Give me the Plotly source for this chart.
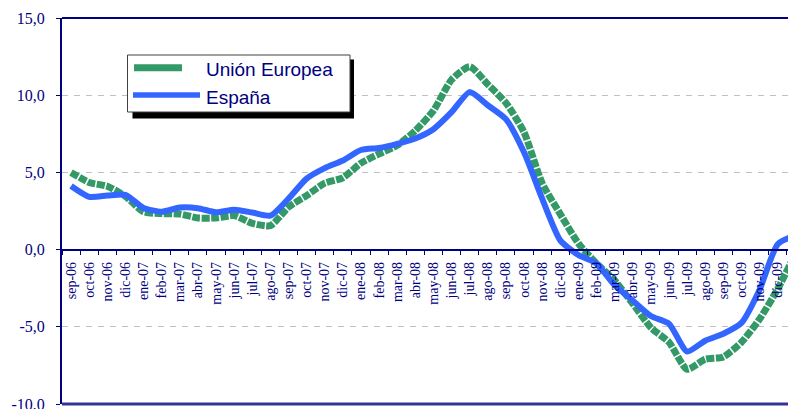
import plotly.graph_objects as go

months = ["sep-06", "oct-06", "nov-06", "dic-06", "ene-07", "feb-07", "mar-07", "abr-07",
          "may-07", "jun-07", "jul-07", "ago-07", "sep-07", "oct-07", "nov-07", "dic-07",
          "ene-08", "feb-08", "mar-08", "abr-08", "may-08", "jun-08", "jul-08", "ago-08",
          "sep-08", "oct-08", "nov-08", "dic-08", "ene-09", "feb-09", "mar-09", "abr-09",
          "may-09", "jun-09", "jul-09", "ago-09", "sep-09", "oct-09", "nov-09", "dic-09",
          "ene-10"]

union_europea = [5.0, 4.35, 4.1, 3.45, 2.45, 2.33, 2.3, 2.05, 2.05, 2.2, 1.7, 1.55,
                 2.75, 3.5, 4.3, 4.65, 5.6, 6.2, 6.75, 7.7, 9.0, 11.0, 11.85, 10.7,
                 9.5, 7.6, 4.3, 2.3, 0.4, -0.9, -2.0, -3.5, -5.05, -6.0, -7.75, -7.1,
                 -6.95, -6.0, -4.5, -2.55, -0.2]

espana = [4.12, 3.42, 3.5, 3.55, 2.7, 2.45, 2.72, 2.68, 2.42, 2.58, 2.4, 2.2,
          3.3, 4.6, 5.28, 5.77, 6.45, 6.58, 6.85, 7.2, 7.8, 8.9, 10.2, 9.35,
          8.45, 6.3, 3.3, 0.6, -0.35, -0.9, -2.3, -3.3, -4.3, -4.8, -6.6, -5.9,
          -5.45, -4.75, -2.6, 0.35, 0.93]

y_tickvals = [-10, -5, 0, 5, 10, 15]
y_ticktext = ["-10,0", "-5,0", "0,0", "5,0", "10,0", "15,0"]

series_names = ["Unión Europea", "España"]

NAVY = "#000080"
GREEN = "#339966"
BLUE = "#3366FF"

# page has an 8px body margin; compensate so the plot lands where the reference has it
OFF = 8
PAGE_W, PAGE_H = 796, 409
W, H = PAGE_W - OFF, PAGE_H - OFF
PLOT_L, PLOT_R, PLOT_T, PLOT_B = 62, 796, 18, 404   # page pixel coords of plot area
ML, MR, MT, MB = PLOT_L - OFF, 0, PLOT_T - OFF, PAGE_H - PLOT_B
PW, PH = PLOT_R - PLOT_L, PLOT_B - PLOT_T


def px(x):
    return (x - PLOT_L) / PW


def py(y):
    return (PLOT_B - y) / PH


fig = go.Figure()
fig.add_trace(go.Scatter(
    x=months, y=union_europea, name=series_names[0], mode="lines",
    line=dict(color=GREEN, width=7, dash="8px,1.5px", shape="spline", smoothing=0.6),
    showlegend=False))
fig.add_trace(go.Scatter(
    x=months, y=espana, name=series_names[1], mode="lines",
    line=dict(color=BLUE, width=6, shape="spline", smoothing=0.6),
    showlegend=False))

shapes = [
    # frame top / bottom
    dict(type="line", xref="paper", yref="paper", x0=0, x1=1.2, y0=1, y1=1,
         line=dict(color=NAVY, width=2), layer="above"),
    dict(type="line", xref="paper", yref="paper", x0=0, x1=1.2, y0=0, y1=0,
         line=dict(color="#333399", width=3), layer="above"),
    # legend shadow and box
    dict(type="rect", xref="paper", yref="paper", x0=px(132.5), x1=px(354), y0=py(118.5), y1=py(59.5),
         fillcolor="black", line=dict(width=0), layer="above"),
    dict(type="rect", xref="paper", yref="paper", x0=px(127.5), x1=px(350), y0=py(112), y1=py(55),
         fillcolor="white", line=dict(color="#404040", width=1), layer="above"),
    dict(type="line", xref="paper", yref="paper", x0=px(134), x1=px(182), y0=py(67.7), y1=py(67.7),
         line=dict(color=GREEN, width=7), layer="above"),
    dict(type="line", xref="paper", yref="paper", x0=px(133), x1=px(200), y0=py(95), y1=py(95),
         line=dict(color=BLUE, width=5.5), layer="above"),
]

annotations = [
    dict(text=series_names[0], xref="paper", yref="paper", x=px(204), y=py(69.5),
         xanchor="left", yanchor="middle", showarrow=False,
         font=dict(family="Liberation Sans, Arial", size=19, color=NAVY)),
    dict(text=series_names[1], xref="paper", yref="paper", x=px(204), y=py(97.5),
         xanchor="left", yanchor="middle", showarrow=False,
         font=dict(family="Liberation Sans, Arial", size=19, color=NAVY)),
]

fig.update_layout(
    width=W, height=H,
    margin=dict(l=ML, r=MR, t=MT, b=MB, autoexpand=False),
    paper_bgcolor="white", plot_bgcolor="white",
    shapes=shapes, annotations=annotations,
    showlegend=False,
    xaxis=dict(
        type="category", range=[-0.5, 40.01], anchor="free", position=0.4,
        automargin=False, ticklabeloverflow="allow",
        showline=True, linecolor=NAVY, linewidth=1.5,
        ticks="outside", tickson="boundaries", ticklen=5, tickcolor=NAVY, tickwidth=1,
        tickangle=-90, showgrid=False, zeroline=False,
        tickfont=dict(family="Liberation Serif, Times New Roman", size=14, color=NAVY),
        ticklabelstandoff=6,
    ),
    yaxis=dict(
        range=[-10, 15], tickvals=y_tickvals, ticktext=y_ticktext,
        automargin=False, ticklabeloverflow="allow",
        showline=True, linecolor=NAVY, linewidth=2,
        ticks="outside", ticklen=4, tickcolor=NAVY,
        showgrid=True, gridcolor="#C0C0C0", gridwidth=1, griddash="6px,6px",
        zeroline=False,
        tickfont=dict(family="Liberation Serif, Times New Roman", size=16, color=NAVY),
        ticklabelstandoff=8,
    ),
)

fig.write_html("out.html")
